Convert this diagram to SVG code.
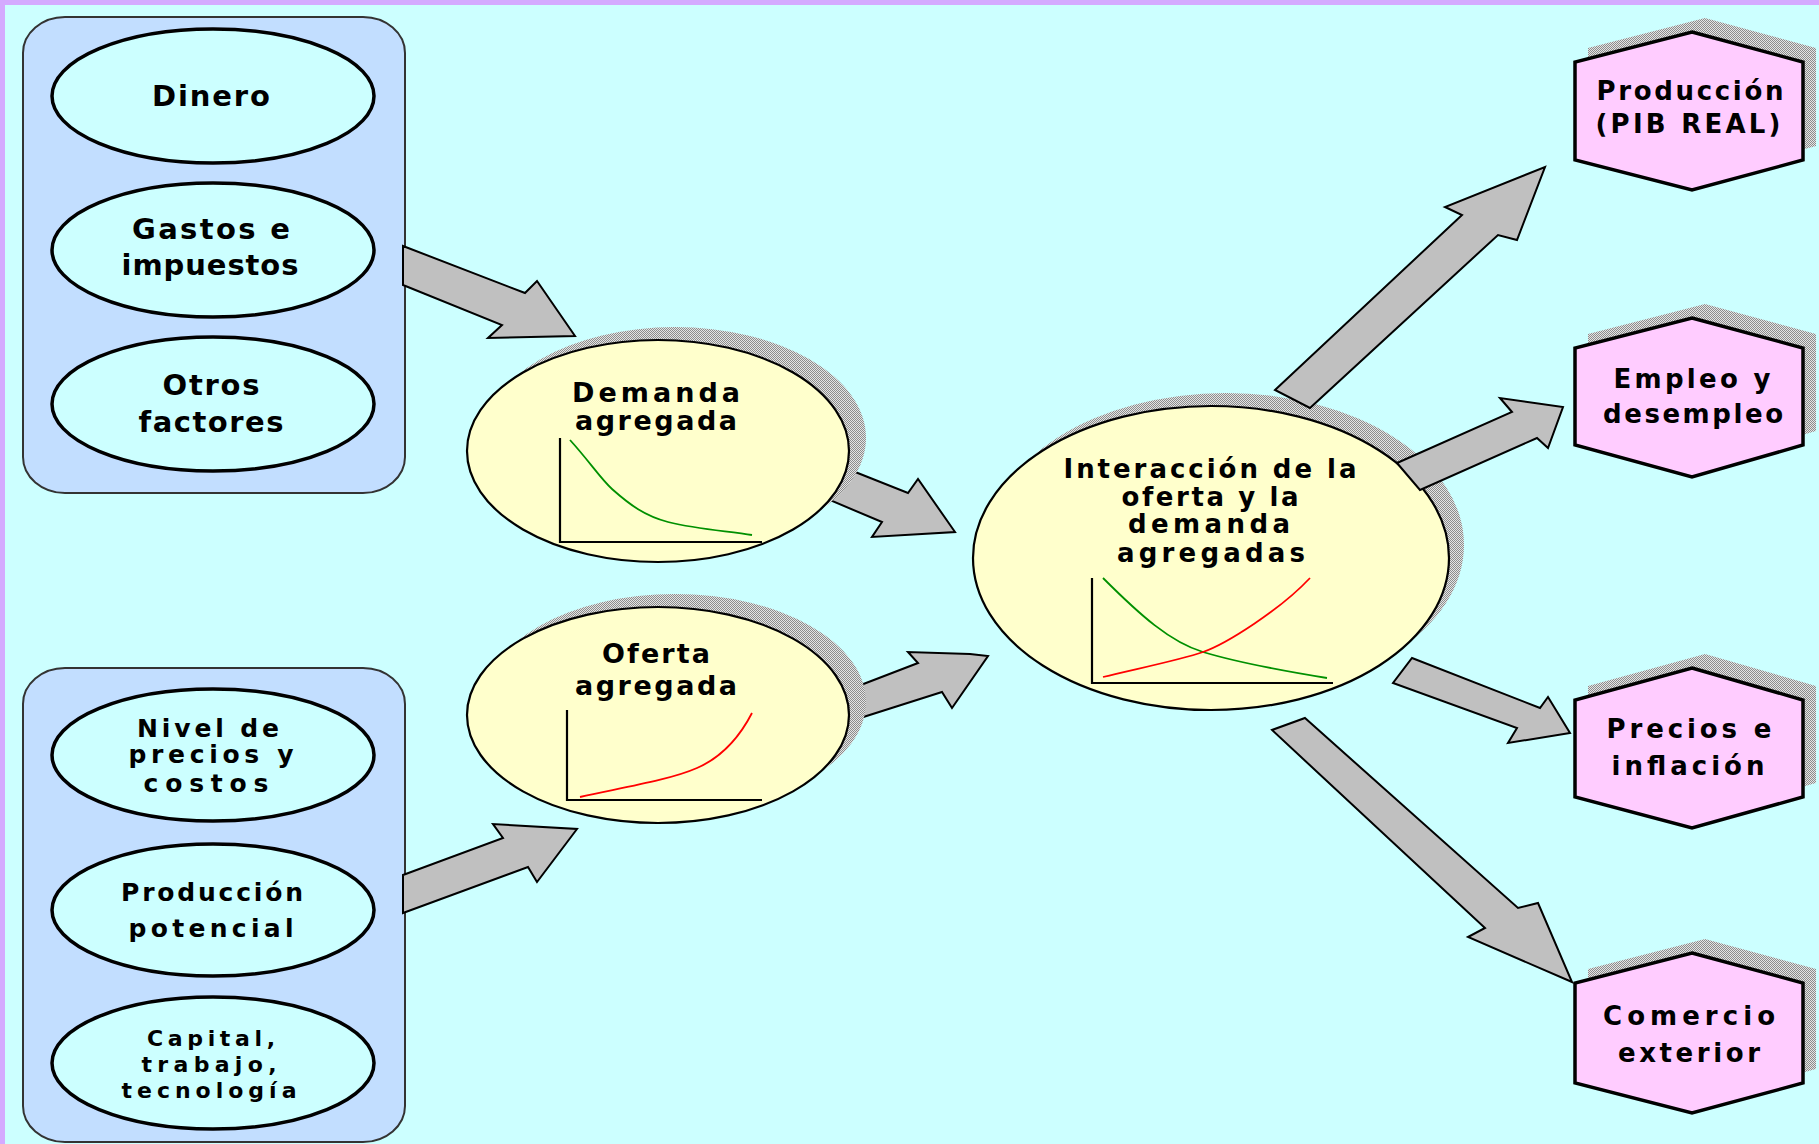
<svg xmlns="http://www.w3.org/2000/svg" width="1819" height="1144" viewBox="0 0 1819 1144">
<defs>
<pattern id="dots" patternUnits="userSpaceOnUse" width="2" height="2">
<rect width="2" height="2" fill="#e4e4e4"/>
<rect width="1" height="1" fill="#8c8c8c"/>
<rect x="1" y="1" width="1" height="1" fill="#8c8c8c"/>
</pattern>
<style>
.bg{fill:#ccffff}
.panel{fill:#c2deff;stroke:#333;stroke-width:2}
.el{fill:#ccffff;stroke:#000;stroke-width:3.5}
.yel{fill:#ffffcc;stroke:#000;stroke-width:2.2}
.hex{fill:#ffccff;stroke:#000;stroke-width:3.5;stroke-linejoin:miter}
.sh{fill:url(#dots)}
.arr{fill:#c0c0c0;stroke:#000;stroke-width:2;stroke-linejoin:miter}
.ax{fill:none;stroke:#000;stroke-width:2.2}
.dem{fill:none;stroke:#009000;stroke-width:1.8}
.sup{fill:none;stroke:#ff0000;stroke-width:1.8}
text{font-family:"DejaVu Sans","Liberation Sans",sans-serif;font-weight:bold;fill:#000;text-anchor:middle}
.t28{font-size:29px}
.t24{font-size:25px}
.t23{font-size:22px}
.t26{font-size:27px}
.t25{font-size:26px}
.th{font-size:26px}
</style>
</defs>
<rect class="bg" x="0" y="0" width="1819" height="1144"/>
<rect x="0" y="0" width="1819" height="5" fill="#d4aaff"/>
<rect x="0" y="0" width="5" height="1144" fill="#d4aaff"/>

<g id="panel-demand-factors">
<rect class="panel" x="23" y="17" width="382" height="476" rx="42" ry="36"/>
</g>
<g id="panel-supply-factors">
<rect class="panel" x="23" y="668" width="382" height="474" rx="42" ry="36"/>
</g>

<g id="dinero">
<ellipse class="el" cx="213" cy="96" rx="161" ry="67"/>
<text class="t28" x="211" y="106" textLength="118" lengthAdjust="spacing">Dinero</text>
</g>
<g id="gastos">
<ellipse class="el" cx="213" cy="250" rx="161" ry="67"/>
<text class="t28" x="211" y="239" textLength="158" lengthAdjust="spacing">Gastos e</text>
<text class="t28" x="210" y="275" textLength="177" lengthAdjust="spacing">impuestos</text>
</g>
<g id="otros">
<ellipse class="el" cx="213" cy="404" rx="161" ry="67"/>
<text class="t28" x="211" y="395" textLength="97" lengthAdjust="spacing">Otros</text>
<text class="t28" x="211" y="432" textLength="145" lengthAdjust="spacing">factores</text>
</g>

<g id="nivel">
<ellipse class="el" cx="213" cy="755" rx="161" ry="66"/>
<text class="t24" x="208" y="737" textLength="142" lengthAdjust="spacing">Nivel de</text>
<text class="t24" x="211" y="763" textLength="165" lengthAdjust="spacing">precios y</text>
<text class="t24" x="206" y="792" textLength="125" lengthAdjust="spacing">costos</text>
</g>
<g id="produccion-potencial">
<ellipse class="el" cx="213" cy="910" rx="161" ry="66"/>
<text class="t24" x="212" y="901" textLength="182" lengthAdjust="spacing">Producción</text>
<text class="t24" x="211" y="937" textLength="165" lengthAdjust="spacing">potencial</text>
</g>
<g id="capital">
<ellipse class="el" cx="213" cy="1063" rx="161" ry="66"/>
<text class="t23" x="211" y="1046" textLength="128" lengthAdjust="spacing">Capital,</text>
<text class="t23" x="209" y="1072" textLength="135" lengthAdjust="spacing">trabajo,</text>
<text class="t23" x="209" y="1098" textLength="175" lengthAdjust="spacing">tecnología</text>
</g>

<g id="interaccion">
<ellipse class="sh" cx="1226" cy="545" rx="238" ry="152"/>
<ellipse class="yel" cx="1211" cy="558" rx="238" ry="152"/>
<text class="t25" x="1210" y="478" textLength="293" lengthAdjust="spacing">Interacción de la</text>
<text class="t25" x="1210" y="506" textLength="177" lengthAdjust="spacing">oferta y la</text>
<text class="t25" x="1209" y="533" textLength="162" lengthAdjust="spacing">demanda</text>
<text class="t25" x="1211" y="562" textLength="188" lengthAdjust="spacing">agregadas</text>
<polyline class="ax" points="1092,578 1092,683 1333,683"/>
<path class="dem" d="M1103,578 C1140,615 1170,642 1203,652 S1290,672 1327,678"/>
<path class="sup" d="M1103,677 C1140,668 1180,660 1203,652 S1280,610 1310,578"/>
</g>

<g id="connectors">
<polygon class="arr" points="403,246 525,293 537,281 575,336 488,338 502,325 403,285"/>
<polygon class="arr" points="403,875 503,838 493,824 577,829 537,882 528,867 403,913"/>
<polygon class="arr" points="830,462 908,493 918,479 955,532 872,537 882,522 825,498"/>
<polygon class="arr" points="840,693 918,663 908,652 970,654 988,656 952,708 942,692 835,726"/>
<polygon class="arr" points="1275,390 1462,215 1445,207 1545,167 1517,240 1498,235 1310,408"/>
<polygon class="arr" points="1397,463 1512,412 1500,398 1563,407 1548,448 1537,438 1420,490"/>
<polygon class="arr" points="1412,658 1540,708 1548,697 1570,733 1508,743 1517,728 1393,683"/>
<polygon class="arr" points="1305,718 1518,908 1538,903 1572,982 1468,937 1485,928 1272,730"/>
</g>

<g id="demanda">
<ellipse class="sh" cx="675" cy="438" rx="191" ry="111"/>
<ellipse class="yel" cx="658" cy="451" rx="191" ry="111"/>
<text class="t26" x="656" y="402" textLength="168" lengthAdjust="spacing">Demanda</text>
<text class="t26" x="656" y="430" textLength="162" lengthAdjust="spacing">agregada</text>
<polyline class="ax" points="560,438 560,542 762,542"/>
<path class="dem" d="M570,440 C590,462 600,478 612,489 C630,505 645,516 668,522 C700,530 730,531 752,535"/>
</g>
<g id="oferta">
<ellipse class="sh" cx="675" cy="702" rx="191" ry="108"/>
<ellipse class="yel" cx="658" cy="715" rx="191" ry="108"/>
<text class="t26" x="656" y="663" textLength="108" lengthAdjust="spacing">Oferta</text>
<text class="t26" x="656" y="695" textLength="162" lengthAdjust="spacing">agregada</text>
<polyline class="ax" points="567,710 567,800 762,800"/>
<path class="sup" d="M580,797 C620,788 670,780 697,768 C720,758 738,740 752,713"/>
</g>

<g id="pib">
<polygon class="sh" points="1705,18 1816,48 1816,146 1705,176 1588,146 1588,48"/>
<polygon class="hex" points="1692,32 1803,62 1803,160 1692,190 1575,160 1575,62"/>
<text class="th" x="1690" y="100" textLength="187" lengthAdjust="spacing">Producción</text>
<text class="th" x="1688" y="133" textLength="185" lengthAdjust="spacing">(PIB REAL)</text>
</g>
<g id="empleo">
<polygon class="sh" points="1705,304 1816,334 1816,431 1705,463 1588,431 1588,334"/>
<polygon class="hex" points="1692,318 1803,348 1803,445 1692,477 1575,445 1575,348"/>
<text class="th" x="1692" y="388" textLength="157" lengthAdjust="spacing">Empleo y</text>
<text class="th" x="1693" y="423" textLength="180" lengthAdjust="spacing">desempleo</text>
</g>
<g id="precios">
<polygon class="sh" points="1705,654 1816,686 1816,783 1705,814 1588,783 1588,686"/>
<polygon class="hex" points="1692,668 1803,700 1803,797 1692,828 1575,797 1575,700"/>
<text class="th" x="1689" y="738" textLength="165" lengthAdjust="spacing">Precios e</text>
<text class="th" x="1688" y="775" textLength="153" lengthAdjust="spacing">inflación</text>
</g>
<g id="comercio">
<polygon class="sh" points="1705,939 1816,969 1816,1069 1705,1099 1588,1069 1588,969"/>
<polygon class="hex" points="1692,953 1803,983 1803,1083 1692,1113 1575,1083 1575,983"/>
<text class="th" x="1689" y="1025" textLength="172" lengthAdjust="spacing">Comercio</text>
<text class="th" x="1689" y="1062" textLength="142" lengthAdjust="spacing">exterior</text>
</g>
</svg>
